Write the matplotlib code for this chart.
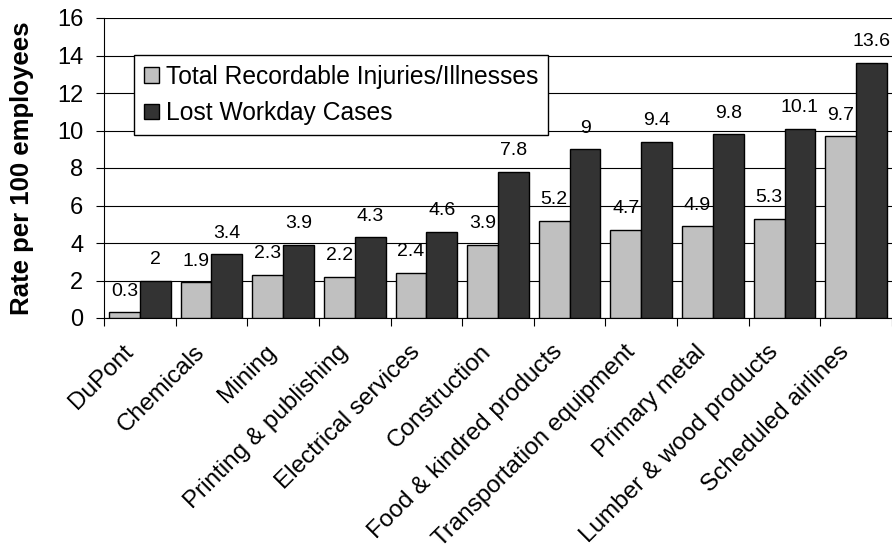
import matplotlib.pyplot as plt
import matplotlib.transforms as mtransforms
import numpy as np

plt.rcParams['font.family'] = ['Liberation Sans', 'DejaVu Sans']

categories = ['DuPont', 'Chemicals', 'Mining', 'Printing & publishing',
              'Electrical services', 'Construction', 'Food & kindred products',
              'Transportation equipment', 'Primary metal',
              'Lumber & wood products', 'Scheduled airlines']
total_recordable = [0.3, 1.9, 2.3, 2.2, 2.4, 3.9, 5.2, 4.7, 4.9, 5.3, 9.7]
lost_workday = [2, 3.4, 3.9, 4.3, 4.6, 7.8, 9, 9.4, 9.8, 10.1, 13.6]
series_names = ['Total Recordable Injuries/Illnesses', 'Lost Workday Cases']

fig = plt.figure(figsize=(8.92, 5.57), dpi=100)
ax = fig.add_axes([104 / 892, 1 - 318 / 557, 788 / 892, 300 / 557])

x = np.arange(len(categories))
w = 0.43
b1 = ax.bar(x - w / 2, total_recordable, w, color='#c0c0c0', edgecolor='black',
            linewidth=1, label=series_names[0], zorder=3)
b2 = ax.bar(x + w / 2, lost_workday, w, color='#333333', edgecolor='black',
            linewidth=1, label=series_names[1], zorder=3)

for bars, vals in ((b1, total_recordable), (b2, lost_workday)):
    for r, v in zip(bars, vals):
        ax.annotate(f'{v:g}', (r.get_x() + r.get_width() / 2, v),
                    xytext=(0, 9), textcoords='offset points',
                    ha='center', va='bottom', fontsize=14, zorder=4)

ax.set_xlim(-0.5, len(categories) - 0.5)
ax.set_ylim(0, 16)
ax.set_yticks(range(0, 17, 2))
ax.yaxis.grid(True, color='black', linewidth=0.8, zorder=0)
ax.tick_params(axis='y', labelsize=17, length=6, width=0.8, pad=9)

ax.set_xticks(x)
ax.set_xticklabels(categories, rotation=45, ha='right', va='center',
                   rotation_mode='anchor', fontsize=17.5)
ax.tick_params(axis='x', length=0, pad=22)
shift = mtransforms.ScaledTranslation(-10 / 100, 0, fig.dpi_scale_trans)
for lab in ax.get_xticklabels():
    lab.set_transform(lab.get_transform() + shift)
ax.set_xticks(np.arange(-0.5, len(categories) + 0.5, 1), minor=True)
ax.tick_params(axis='x', which='minor', length=6, width=0.8)

for s in ('top', 'right'):
    ax.spines[s].set_visible(False)
ax.spines['left'].set_linewidth(0.8)
ax.spines['bottom'].set_linewidth(0.8)

ax.set_ylabel('Rate per 100 employees', fontsize=18.5, fontweight='bold')
ax.yaxis.set_label_coords(-70 / 788, 0.5)

ax.legend(loc='upper left', bbox_to_anchor=(30 / 788, 263 / 300), fontsize=17.7,
          frameon=True, fancybox=False, edgecolor='black', framealpha=1,
          handlelength=0.6, handleheight=0.6, handletextpad=0.3,
          borderpad=0.4, labelspacing=0.5, borderaxespad=0)

fig.savefig('out.png', dpi=100)
